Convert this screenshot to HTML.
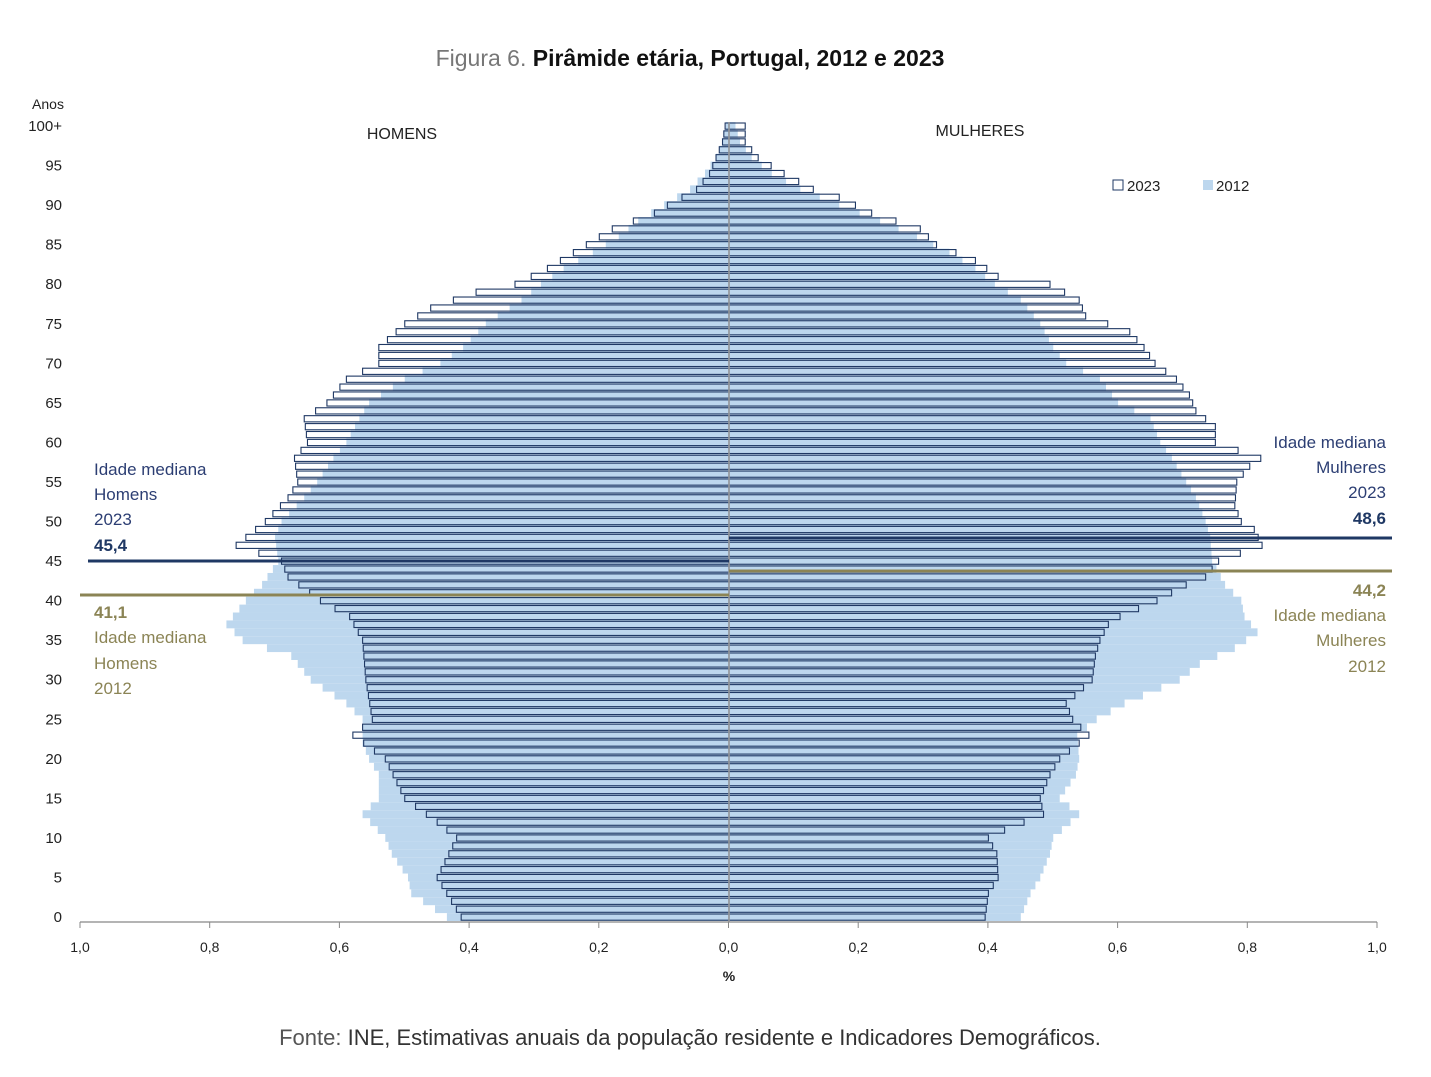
<!DOCTYPE html>
<html><head><meta charset="utf-8"><style>
body{margin:0;background:#fff;}
svg text{font-family:"Liberation Sans","DejaVu Sans",sans-serif;}
</style></head><body>
<svg id="s" width="1431" height="1072" xmlns="http://www.w3.org/2000/svg">
<rect width="1431" height="1072" fill="#fff"/>
<text x="690" y="66" text-anchor="middle" font-size="23"><tspan fill="#777">Figura 6. </tspan><tspan fill="#111" font-weight="bold">Pirâmide etária, Portugal, 2012 e 2023</tspan></text>
<text x="48" y="109" text-anchor="middle" font-size="14" fill="#222">Anos</text>
<text x="402" y="139" text-anchor="middle" font-size="16" fill="#222">HOMENS</text>
<text x="980" y="136" text-anchor="middle" font-size="16" fill="#222">MULHERES</text>
<rect x="1113" y="180" width="10" height="10" fill="#fff" stroke="#1f3864"/>
<text x="1127" y="191" font-size="15" fill="#222">2023</text>
<rect x="1203" y="180" width="10" height="10" fill="#bdd7ee"/>
<text x="1216" y="191" font-size="15" fill="#222">2012</text>
<g id="bars"></g>
<g id="axis"></g>
<text x="729" y="981" text-anchor="middle" font-size="14" font-weight="bold" fill="#222">%</text>
<text x="690" y="1045" text-anchor="middle" font-size="22" fill="#333"><tspan fill="#555">Fonte:</tspan> INE, Estimativas anuais da população residente e Indicadores Demográficos.</text>
<g font-size="17" fill="#2c3e73">
<text x="94" y="475">Idade mediana</text><text x="94" y="500">Homens</text><text x="94" y="525">2023</text>
<text x="94" y="551" font-weight="bold" fill="#1f3864">45,4</text>
<text x="1386" y="448" text-anchor="end">Idade mediana</text><text x="1386" y="473" text-anchor="end">Mulheres</text><text x="1386" y="498" text-anchor="end">2023</text>
<text x="1386" y="524" text-anchor="end" font-weight="bold" fill="#1f3864">48,6</text>
</g>
<g font-size="17" fill="#8b8455">
<text x="94" y="618" font-weight="bold">41,1</text>
<text x="94" y="643">Idade mediana</text><text x="94" y="669">Homens</text><text x="94" y="694">2012</text>
<text x="1386" y="596" text-anchor="end" font-weight="bold">44,2</text>
<text x="1386" y="621" text-anchor="end">Idade mediana</text><text x="1386" y="646" text-anchor="end">Mulheres</text><text x="1386" y="672" text-anchor="end">2012</text>
</g>
<line x1="88" y1="561" x2="729" y2="561" stroke="#1f3864" stroke-width="3"/>
<line x1="80" y1="595" x2="729" y2="595" stroke="#8b8455" stroke-width="3"/>
<line x1="729" y1="538" x2="1392" y2="538" stroke="#1f3864" stroke-width="3"/>
<line x1="729" y1="571" x2="1392" y2="571" stroke="#8b8455" stroke-width="3"/>
</svg>
<script>
function interp(pts){var out=[];for(var a=0;a<=100;a++){for(var i=0;i<pts.length-1;i++){if(a>=pts[i][0]&&a<=pts[i+1][0]){var t=(a-pts[i][0])/(pts[i+1][0]-pts[i][0]||1);out[a]=pts[i][1]+t*(pts[i+1][1]-pts[i][1]);break;}}}return out;}
var m23=interp([[0,.413],[5,.45],[10,.42],[12,.45],[15,.5],[20,.53],[23,.58],[25,.55],[30,.56],[35,.565],[38,.585],[40,.63],[43,.68],[45,.69],[47,.76],[50,.715],[53,.68],[55,.665],[58,.67],[60,.65],[63,.655],[65,.62],[68,.59],[70,.54],[72,.54],[75,.5],[77,.46],[79,.39],[80,.33],[82,.28],[84,.24],[85,.22],[87,.18],[89,.115],[90,.095],[92,.05],[94,.03],[96,.02],[98,.01],[100,.006]]);
var m12=interp([[0,.435],[3,.49],[5,.495],[8,.52],[10,.53],[13,.565],[15,.54],[18,.54],[20,.555],[22,.565],[25,.565],[27,.59],[30,.645],[33,.675],[35,.75],[37,.775],[40,.745],[42,.72],[45,.695],[48,.7],[50,.69],[53,.655],[55,.635],[58,.61],[60,.59],[63,.57],[65,.555],[68,.5],[70,.445],[72,.41],[75,.375],[78,.32],[80,.29],[82,.255],[84,.21],[86,.17],[88,.14],[90,.1],[92,.06],[94,.037],[96,.02],[98,.01],[100,.005]]);
var f23=interp([[0,.395],[3,.4],[5,.415],[8,.413],[10,.4],[11,.425],[13,.485],[15,.48],[18,.495],[20,.51],[23,.555],[25,.53],[27,.52],[30,.56],[33,.565],[35,.572],[37,.585],[38,.603],[40,.66],[42,.705],[43,.735],[45,.755],[47,.822],[49,.81],[50,.79],[52,.78],[55,.783],[57,.803],[58,.82],[60,.75],[62,.75],[64,.72],[66,.71],[68,.69],[70,.657],[72,.64],[74,.618],[76,.55],[78,.54],[80,.495],[81,.415],[83,.38],[85,.32],[87,.295],[89,.22],[91,.17],[92,.13],[94,.085],[96,.045],[98,.025],[100,.025]]);
var f12=interp([[0,.45],[3,.465],[5,.48],[8,.495],[10,.5],[13,.54],[15,.51],[18,.535],[20,.54],[23,.537],[25,.567],[27,.61],[30,.695],[32,.726],[34,.78],[36,.815],[38,.795],[40,.79],[42,.765],[45,.745],[48,.742],[50,.735],[53,.72],[55,.705],[58,.683],[60,.665],[63,.65],[65,.6],[68,.572],[70,.52],[72,.5],[75,.48],[78,.45],[80,.41],[82,.38],[84,.34],[86,.29],[88,.233],[90,.17],[92,.11],[94,.066],[96,.035],[98,.017],[100,.01]]);
var C=729,K=648.5,NS="http://www.w3.org/2000/svg",g=document.getElementById('bars'),h='';
function yA(a){return 917-a*7.91;}
for(var a=0;a<=100;a++){var y=yA(a)-3,H=6.2;
h+='<rect x="'+(C-m23[a]*K)+'" y="'+y+'" width="'+m23[a]*K+'" height="'+H+'" fill="#fff"/>';
h+='<rect x="'+C+'" y="'+y+'" width="'+f23[a]*K+'" height="'+H+'" fill="#fff"/>';}
for(var a=0;a<=100;a++){var y=yA(a)-3.9,H=7.9;
h+='<rect x="'+(C-m12[a]*K)+'" y="'+y+'" width="'+m12[a]*K+'" height="'+H+'" fill="#bdd7ee"/>';
h+='<rect x="'+C+'" y="'+y+'" width="'+f12[a]*K+'" height="'+H+'" fill="#bdd7ee"/>';}
for(var a=0;a<=100;a++){var y=yA(a)-3,H=6.2;
h+='<rect x="'+(C-m23[a]*K)+'" y="'+y+'" width="'+m23[a]*K+'" height="'+H+'" fill="none" stroke="#1f3864" stroke-width="1.1"/>';
h+='<rect x="'+C+'" y="'+y+'" width="'+f23[a]*K+'" height="'+H+'" fill="none" stroke="#1f3864" stroke-width="1.1"/>';}
g.innerHTML=h;
var ax='<line x1="729" y1="122" x2="729" y2="922" stroke="#999" stroke-width="1.5"/><line x1="80" y1="922" x2="1377" y2="922" stroke="#888" stroke-width="1.2"/>';
var labs=['1,0','0,8','0,6','0,4','0,2','0,0','0,2','0,4','0,6','0,8','1,0'];
for(var i=0;i<=10;i++){var x=80+i*129.7;ax+='<line x1="'+x+'" y1="922" x2="'+x+'" y2="928" stroke="#888"/><text x="'+x+'" y="952" text-anchor="middle" font-size="14" fill="#222">'+labs[i]+'</text>';}
for(var a=0;a<=100;a+=5){var t=a==100?'100+':a;ax+='<text x="62" y="'+(yA(a)+5)+'" text-anchor="end" font-size="15" fill="#222">'+t+'</text>';}
document.getElementById('axis').innerHTML=ax;
</script>
</body></html>
